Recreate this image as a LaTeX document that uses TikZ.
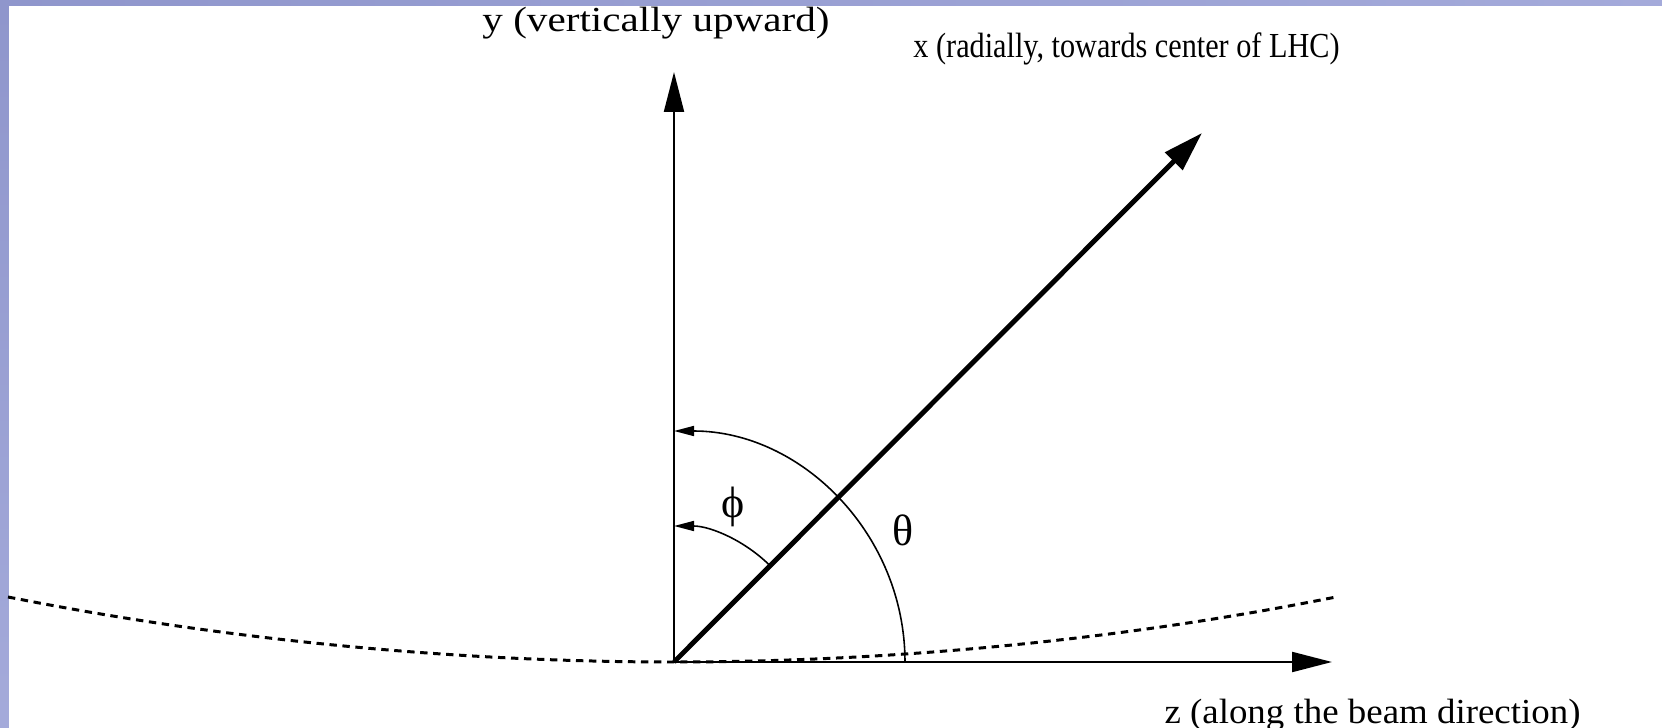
\documentclass[tikz,border=0pt]{standalone}
\usepackage{fontspec}
\setmainfont{Liberation Serif}
\usepackage{tikz}
\usetikzlibrary{arrows.meta}
\definecolor{bandA}{HTML}{8F96CC}
\definecolor{bandB}{HTML}{A4AADA}
\definecolor{ink}{HTML}{000000}
\tikzset{
  axis/.style={draw=ink, line width=0.6pt, -{Triangle[length=4mm,width=2mm]}},
  beam/.style={draw=ink, line width=1.4pt, -{Triangle[length=4mm,width=2.4mm]}},
  sweep/.style={draw=ink, line width=0.45pt, -{Triangle[length=2mm,width=1mm]}},
  ring/.style={draw=ink, line width=0.85pt, dash pattern=on 2.1pt off 1.6pt},
  lab/.style={text=ink, font=\fontsize{10}{12}\selectfont, transform shape},
  greek/.style={text=ink, font=\fontsize{12.5}{14}\selectfont},
}

\begin{document}
\begin{tikzpicture}
\useasboundingbox (0,0) rectangle (16.62,7.27);
\clip (0,0) rectangle (16.62,7.27);
% slide frame
\shade[left color=bandA, right color=bandB] (0,7.21) rectangle (16.62,7.27);
\shade[top color=bandA, bottom color=bandB] (0,0) rectangle (0.09,7.21);
\coordinate (O) at (6.74,0.65);
\coordinate (Y) at (6.74,6.55);
\coordinate (Z) at (13.32,0.65);
\coordinate (X) at (12.02,5.94);
\coordinate (ringL) at (0.08,1.30);
\coordinate (ringR) at (13.36,1.30);
% beam ring
\draw[ring] (ringL) parabola bend (O) (ringR);
% axes
\draw[axis] (O) -- (Y);
\draw[axis] (O) -- (Z);
\draw[beam] (O) -- (X);
% angles
\draw[sweep] (O) ++(0:2.31) arc[start angle=0, end angle=90, radius=2.31];
\draw[sweep] (O) ++(45:1.36) arc[start angle=45, end angle=90, radius=1.36];
\node[lab, anchor=base, xscale=1.17] (ylab) at (6.56,6.95) {y (vertically upward)};
\node[lab, anchor=base, xscale=0.86] (xlab) at (11.265,6.69) {x (radially, towards center of LHC)};
\node[lab, anchor=base, xscale=1.05] (zlab) at (13.725,0.04) {z (along the beam direction)};
\node[greek] (phi) at (7.33,2.20) {ϕ};
\node[greek] (theta) at (9.03,1.97) {θ};
\end{tikzpicture}
\end{document}
